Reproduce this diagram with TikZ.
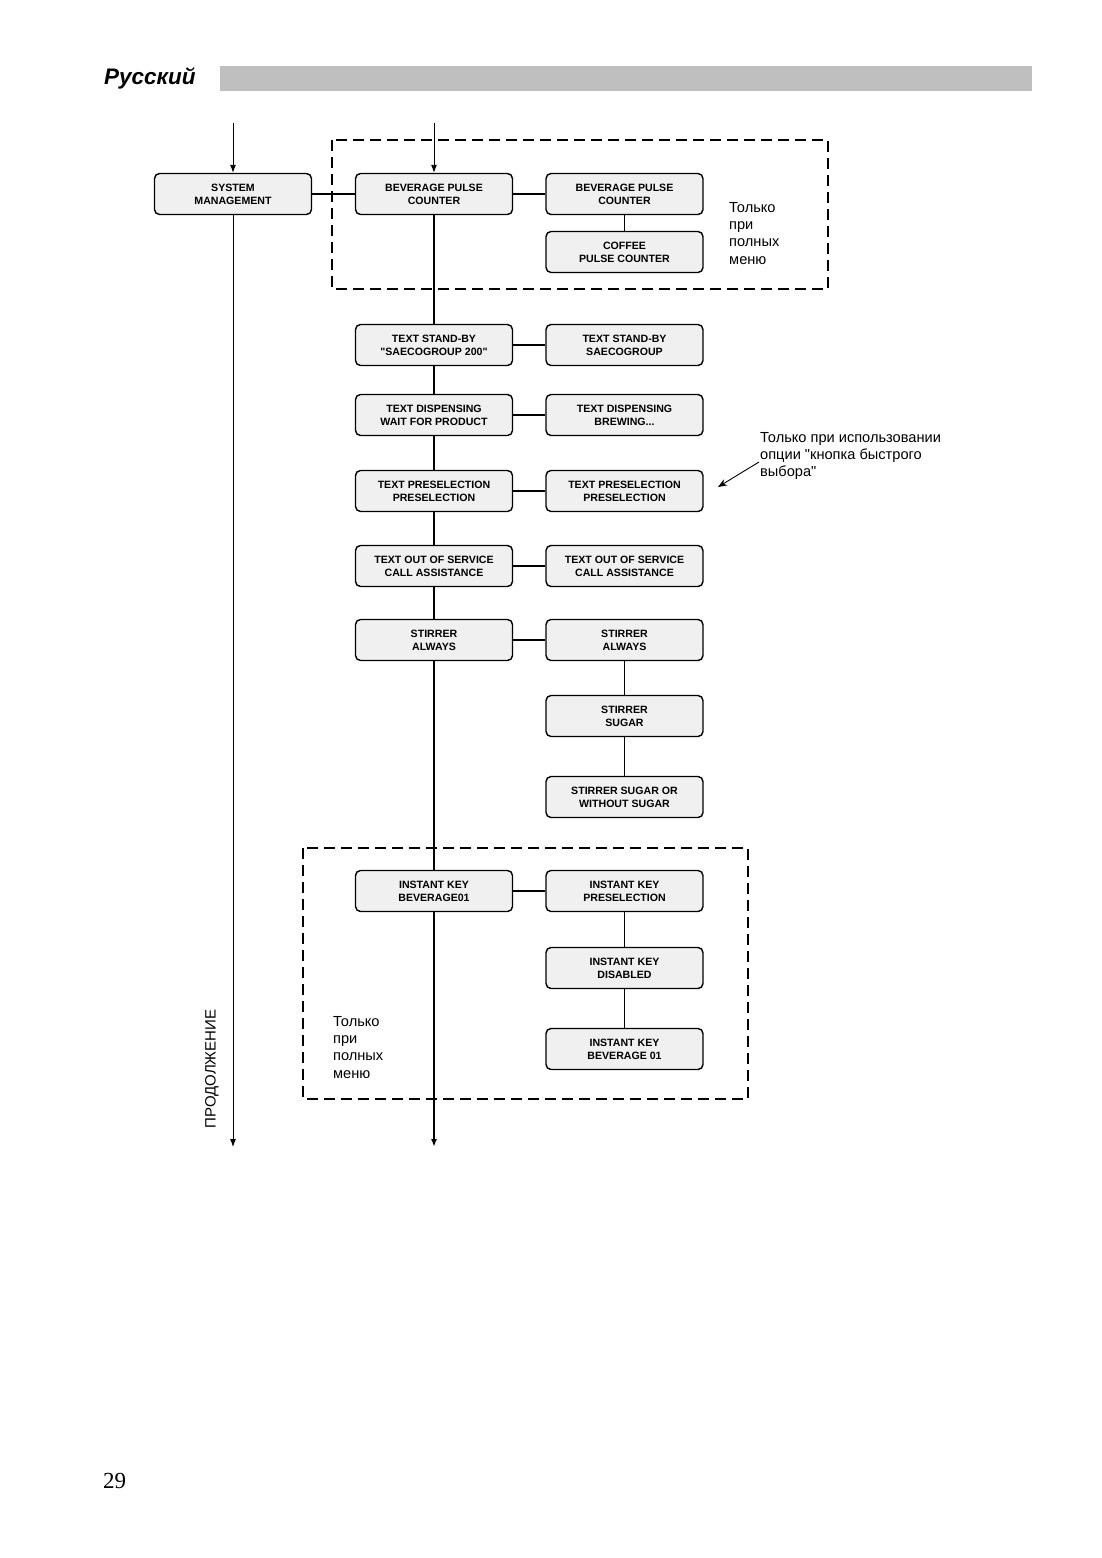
\documentclass[tikz,border=0pt]{standalone}
\usepackage{fontspec}
\setmainfont{Liberation Sans}[Ligatures=TeXOff]
\newfontfamily\pagenumfont{Liberation Serif}
\usetikzlibrary{arrows.meta}
\begin{document}
\begin{tikzpicture}[x=1pt,y=-1pt,
    menubox/.style={draw, line width=1.4pt, rounded corners=5pt, fill=black!6,
      minimum width=157pt, minimum height=41pt, inner sep=0pt, align=center,
      font=\fontsize{10.6}{13}\selectfont\bfseries},
    note/.style={anchor=north west, align=left, inner sep=0pt,
      font=\fontsize{14.6}{17.3}\selectfont},
    trunk/.style={line width=1.6pt},
    link/.style={line width=1.2pt},
    flow/.style={line width=0.9pt, -{Latex[length=8pt,width=6pt]}},
    pointer/.style={line width=0.9pt, -{Stealth[length=9pt,width=7pt]}},
    region/.style={line width=1.1pt, dash pattern=on 11pt off 6pt}]
    \useasboundingbox (0,0) rectangle (1102,1558);

    \node[anchor=west, inner sep=0pt, font=\fontsize{22.5}{26}\selectfont\bfseries\itshape] (lang) at (104,78) {Русский};
    \fill[black!25] (220,66) rectangle (1032,91);

    \draw[region] (332,140) rectangle (828,289);
    \draw[region] (303,848) rectangle (748,1099);

    \node[menubox] (sysman) at (233,194) {SYSTEM\\MANAGEMENT};
    \node[menubox] (bpc) at (434,194) {BEVERAGE PULSE\\COUNTER};
    \node[menubox] (bpcr) at (624.5,194) {BEVERAGE PULSE\\COUNTER};
    \node[menubox] (cpc) at (624.5,252) {COFFEE\\PULSE COUNTER};

    \node[menubox] (tsb) at (434,345) {TEXT STAND-BY\\"SAECOGROUP 200"};
    \node[menubox] (tsbr) at (624.5,345) {TEXT STAND-BY\\SAECOGROUP};
    \node[menubox] (tdisp) at (434,415) {TEXT DISPENSING\\WAIT FOR PRODUCT};
    \node[menubox] (tdispr) at (624.5,415) {TEXT DISPENSING\\BREWING...};
    \node[menubox] (tpre) at (434,491) {TEXT PRESELECTION\\PRESELECTION};
    \node[menubox] (tprer) at (624.5,491) {TEXT PRESELECTION\\PRESELECTION};
    \node[menubox] (toos) at (434,566) {TEXT OUT OF SERVICE\\CALL ASSISTANCE};
    \node[menubox] (toosr) at (624.5,566) {TEXT OUT OF SERVICE\\CALL ASSISTANCE};
    \node[menubox] (stal) at (434,640) {STIRRER\\ALWAYS};
    \node[menubox] (stalr) at (624.5,640) {STIRRER\\ALWAYS};
    \node[menubox] (stsug) at (624.5,716) {STIRRER\\SUGAR};
    \node[menubox] (stsugor) at (624.5,797) {STIRRER SUGAR OR\\WITHOUT SUGAR};

    \node[menubox] (ikbev) at (434,891) {INSTANT KEY\\BEVERAGE01};
    \node[menubox] (ikpre) at (624.5,891) {INSTANT KEY\\PRESELECTION};
    \node[menubox] (ikdis) at (624.5,968) {INSTANT KEY\\DISABLED};
    \node[menubox] (ikbevr) at (624.5,1049) {INSTANT KEY\\BEVERAGE 01};

    \coordinate (topL) at (233,123);
    \coordinate (topM) at (434,123);
    \coordinate (endL) at (233,1147);
    \coordinate (endM) at (434,1147);

    \draw[flow] (topL) -- (sysman);
    \draw[flow] (topM) -- (bpc);
    \draw[flow] (sysman) -- (endL);

    \draw[trunk] (bpc) -- (tsb);
    \draw[trunk] (tsb) -- (tdisp);
    \draw[trunk] (tdisp) -- (tpre);
    \draw[trunk] (tpre) -- (toos);
    \draw[trunk] (toos) -- (stal);
    \draw[trunk] (stal) -- (ikbev);
    \draw[trunk, -{Latex[length=8pt,width=6pt]}] (ikbev) -- (endM);

    \draw[link] (sysman) -- (bpc);
    \foreach \a/\b in {bpc/bpcr, tsb/tsbr, tdisp/tdispr, tpre/tprer, toos/toosr,
      stal/stalr, ikbev/ikpre, bpcr/cpc, stalr/stsug, stsug/stsugor,
      ikpre/ikdis, ikdis/ikbevr}
      \draw[link] (\a) -- (\b);

    \node[note] (fullnote) at (729,202) {Только\\при\\полных\\меню};
    \node[note] (fullnoteb) at (333,1016) {Только\\при\\полных\\меню};
    \node[note] (quicknote) at (760,432) {Только при использовании\\опции "кнопка быстрого\\выбора"};
    \coordinate (quickfrom) at (759,462);
    \coordinate (quickto) at (718,487);
    \draw[pointer] (quickfrom) -- (quickto);

    \node[rotate=90, inner sep=0pt, font=\fontsize{15}{17}\selectfont] (contd) at (212,1069) {ПРОДОЛЖЕНИЕ};
    \node[anchor=base west, inner sep=0pt, font=\pagenumfont\fontsize{23}{26}\selectfont] (pagenum) at (103,1488) {29};
\end{tikzpicture}
\end{document}
